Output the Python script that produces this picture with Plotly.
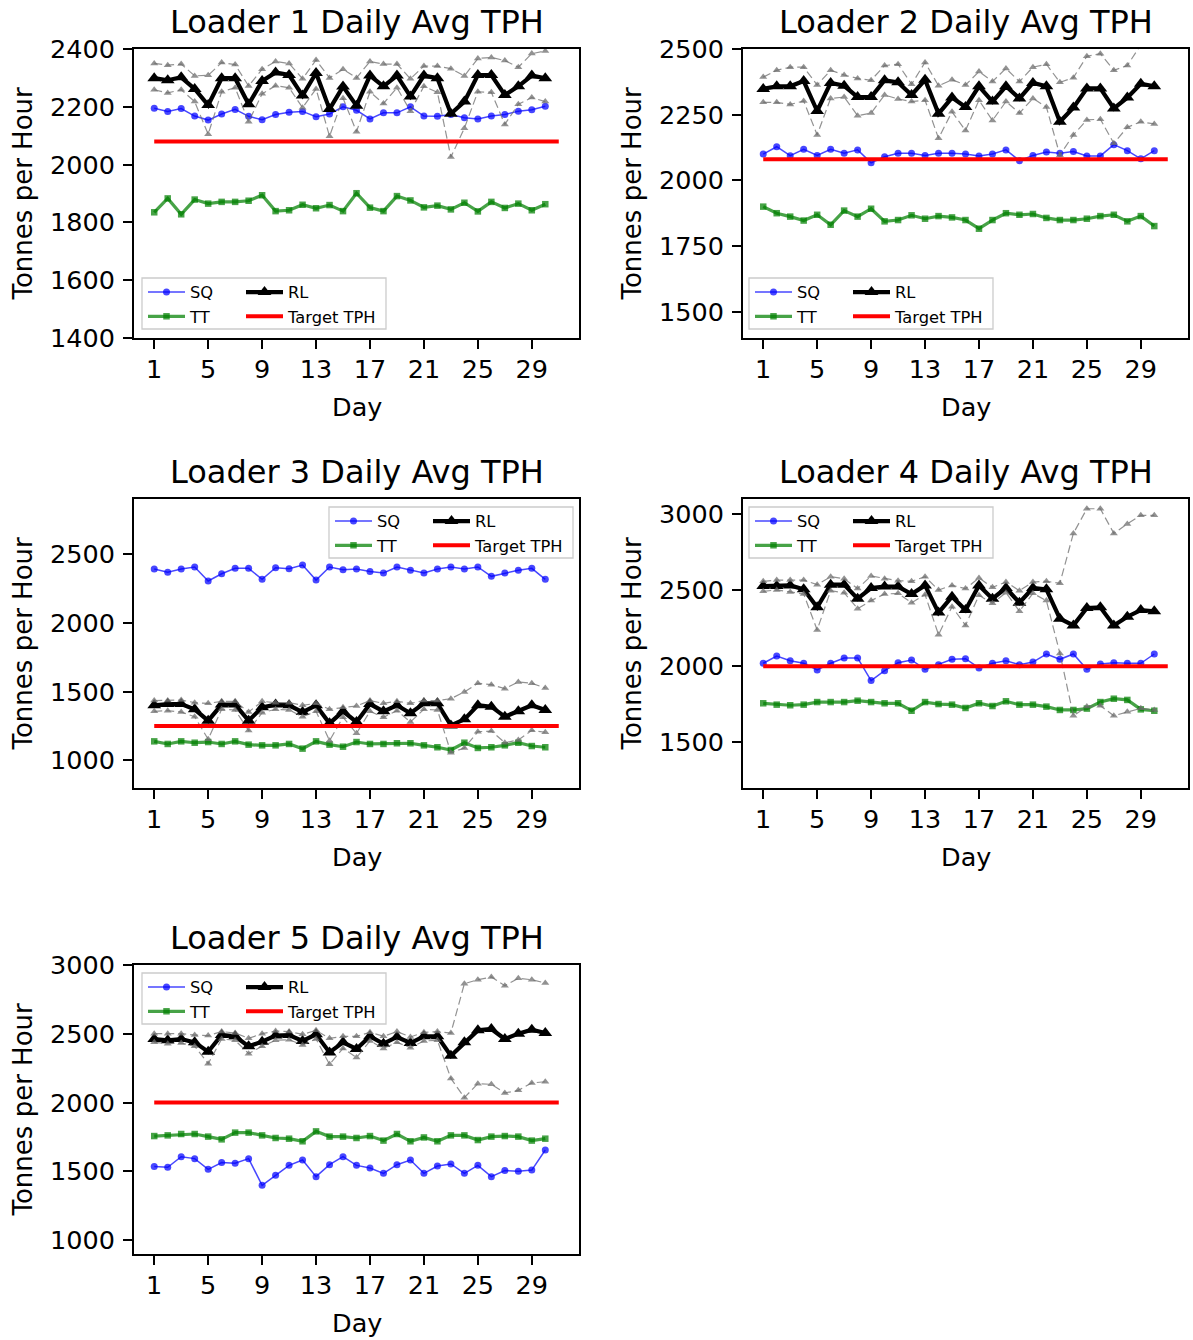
import plotly.graph_objects as go

# ---------------- data ----------------
days = list(range(1, 31))
x_ticks = [1, 5, 9, 13, 17, 21, 25, 29]

sq_1 = [2195, 2184, 2194, 2168, 2154, 2175, 2191, 2167, 2155, 2173, 2181, 2184, 2166, 2175, 2200,
        2188, 2158, 2179, 2179, 2200, 2168, 2167, 2173, 2162, 2158, 2168, 2173, 2185, 2190, 2202]
tt_1 = [1835, 1883, 1828, 1879, 1865, 1871, 1871, 1875, 1894, 1839, 1842, 1861, 1849, 1860, 1839,
        1901, 1851, 1839, 1891, 1876, 1852, 1858, 1845, 1868, 1838, 1871, 1850, 1865, 1842, 1863]
rl_1 = [2299, 2292, 2302, 2262, 2206, 2299, 2299, 2209, 2289, 2319, 2310, 2239, 2317, 2192, 2270,
        2204, 2308, 2271, 2308, 2236, 2308, 2299, 2176, 2218, 2310, 2310, 2241, 2271, 2308, 2299]
rl_hi_1 = [2350, 2344, 2348, 2307, 2309, 2353, 2346, 2272, 2330, 2357, 2350, 2297, 2362, 2300, 2330,
           2300, 2357, 2348, 2348, 2297, 2341, 2341, 2332, 2307, 2367, 2371, 2360, 2337, 2384, 2393]
rl_lo_1 = [2259, 2248, 2259, 2218, 2105, 2252, 2266, 2148, 2245, 2273, 2266, 2197, 2262, 2098, 2230,
           2114, 2252, 2211, 2266, 2185, 2271, 2250, 2026, 2126, 2252, 2250, 2139, 2209, 2232, 2218]
target_1 = 2080

sq_2 = [2100, 2128, 2094, 2118, 2095, 2118, 2103, 2116, 2067, 2090, 2103, 2103, 2095, 2103, 2103,
        2100, 2093, 2100, 2116, 2075, 2095, 2108, 2103, 2110, 2093, 2093, 2136, 2113, 2082, 2113]
tt_2 = [1900, 1875, 1862, 1847, 1869, 1831, 1885, 1862, 1892, 1844, 1849, 1867, 1854, 1864, 1859,
        1849, 1816, 1849, 1875, 1869, 1872, 1857, 1849, 1849, 1854, 1864, 1869, 1844, 1864, 1826]
rl_2 = [2348, 2358, 2358, 2378, 2264, 2371, 2360, 2317, 2317, 2381, 2373, 2325, 2383, 2254, 2315,
        2279, 2358, 2300, 2358, 2312, 2371, 2358, 2223, 2277, 2350, 2350, 2274, 2315, 2368, 2358]
rl_hi_2 = [2393, 2419, 2431, 2431, 2363, 2419, 2401, 2388, 2381, 2437, 2442, 2366, 2449, 2360, 2383,
           2363, 2414, 2376, 2426, 2376, 2431, 2442, 2373, 2391, 2472, 2482, 2419, 2437, 2516, 2525]
rl_lo_2 = [2297, 2297, 2289, 2302, 2173, 2312, 2317, 2246, 2256, 2325, 2310, 2300, 2305, 2160, 2261,
           2190, 2305, 2228, 2300, 2256, 2312, 2279, 2096, 2173, 2230, 2233, 2141, 2202, 2223, 2215]
target_2 = 2080

sq_3 = [2391, 2367, 2391, 2406, 2304, 2357, 2396, 2396, 2316, 2401, 2394, 2420, 2311, 2406, 2386,
        2391, 2374, 2362, 2406, 2382, 2362, 2391, 2406, 2391, 2406, 2338, 2362, 2382, 2396, 2316]
tt_3 = [1139, 1120, 1139, 1129, 1134, 1120, 1139, 1115, 1110, 1110, 1120, 1086, 1139, 1115, 1100,
        1134, 1120, 1120, 1125, 1125, 1110, 1096, 1076, 1129, 1091, 1096, 1110, 1129, 1105, 1096]
rl_3 = [1401, 1410, 1410, 1372, 1289, 1406, 1406, 1289, 1386, 1406, 1401, 1352, 1401, 1270, 1357,
        1280, 1410, 1357, 1401, 1343, 1415, 1415, 1255, 1299, 1401, 1391, 1318, 1357, 1401, 1367]
rl_hi_3 = [1435, 1435, 1439, 1420, 1415, 1430, 1430, 1352, 1430, 1420, 1420, 1401, 1415, 1372, 1386,
           1396, 1435, 1415, 1430, 1415, 1435, 1435, 1449, 1498, 1561, 1551, 1522, 1570, 1561, 1527]
rl_lo_3 = [1357, 1362, 1352, 1318, 1154, 1372, 1367, 1217, 1347, 1372, 1367, 1318, 1357, 1144, 1314,
           1197, 1357, 1314, 1362, 1280, 1372, 1367, 1057, 1091, 1209, 1214, 1129, 1149, 1219, 1205]
target_3 = 1250

sq_4 = [2020, 2068, 2037, 2020, 1976, 2020, 2055, 2055, 1906, 1971, 2024, 2042, 1980, 2011, 2046,
        2050, 1989, 2020, 2037, 2011, 2028, 2081, 2046, 2081, 1980, 2016, 2024, 2020, 2020, 2081]
tt_4 = [1757, 1748, 1744, 1748, 1765, 1765, 1765, 1774, 1765, 1757, 1757, 1708, 1765, 1752, 1748,
        1726, 1757, 1739, 1770, 1748, 1748, 1735, 1713, 1713, 1722, 1765, 1787, 1779, 1717, 1708]
rl_4 = [2528, 2528, 2532, 2506, 2388, 2537, 2537, 2445, 2515, 2524, 2524, 2475, 2532, 2353, 2458,
        2370, 2532, 2445, 2515, 2418, 2515, 2506, 2313, 2269, 2383, 2388, 2269, 2326, 2370, 2362]
rl_hi_4 = [2559, 2567, 2567, 2567, 2537, 2589, 2576, 2511, 2594, 2576, 2563, 2559, 2589, 2502, 2532,
           2511, 2581, 2519, 2554, 2497, 2554, 2559, 2546, 2874, 3036, 3036, 2874, 2936, 2993, 2993]
rl_lo_4 = [2493, 2502, 2489, 2475, 2239, 2497, 2484, 2379, 2432, 2475, 2480, 2418, 2471, 2208, 2392,
           2269, 2467, 2414, 2484, 2362, 2480, 2432, 2085, 1675, 1735, 1741, 1675, 1702, 1724, 1713]
target_4 = 2000

sq_5 = [1535, 1530, 1607, 1593, 1515, 1564, 1559, 1593, 1399, 1472, 1544, 1583, 1462, 1549, 1607,
        1544, 1525, 1486, 1549, 1583, 1486, 1539, 1554, 1486, 1544, 1462, 1506, 1501, 1510, 1656]
tt_5 = [1757, 1762, 1772, 1772, 1753, 1733, 1782, 1782, 1762, 1743, 1738, 1719, 1791, 1753, 1753,
        1743, 1757, 1724, 1772, 1719, 1747, 1719, 1762, 1762, 1728, 1753, 1757, 1753, 1724, 1738]
rl_5 = [2462, 2453, 2462, 2438, 2370, 2491, 2482, 2409, 2443, 2487, 2491, 2448, 2496, 2365, 2438,
        2390, 2482, 2428, 2477, 2433, 2482, 2482, 2341, 2438, 2525, 2535, 2462, 2501, 2530, 2506]
rl_hi_5 = [2501, 2501, 2501, 2491, 2487, 2516, 2506, 2467, 2501, 2520, 2516, 2496, 2525, 2467, 2482,
           2482, 2511, 2482, 2516, 2477, 2511, 2516, 2506, 2864, 2893, 2913, 2850, 2903, 2893, 2869]
rl_lo_5 = [2438, 2428, 2433, 2409, 2283, 2462, 2453, 2356, 2409, 2453, 2457, 2419, 2462, 2278, 2394,
           2327, 2448, 2394, 2438, 2399, 2448, 2453, 2176, 2036, 2138, 2133, 2070, 2089, 2143, 2152]
target_5 = 2000

y_ticks_1 = [1400, 1600, 1800, 2000, 2200, 2400]
y_ticks_2 = [1500, 1750, 2000, 2250, 2500]
y_ticks_3 = [1000, 1500, 2000, 2500]
y_ticks_4 = [1500, 2000, 2500, 3000]
y_ticks_5 = [1000, 1500, 2000, 2500, 3000]

loaders = [
    ("Loader 1", sq_1, tt_1, rl_1, rl_hi_1, rl_lo_1, target_1, y_ticks_1, (1400, 2400)),
    ("Loader 2", sq_2, tt_2, rl_2, rl_hi_2, rl_lo_2, target_2, y_ticks_2, (1400, 2500)),
    ("Loader 3", sq_3, tt_3, rl_3, rl_hi_3, rl_lo_3, target_3, y_ticks_3, (800, 2900)),
    ("Loader 4", sq_4, tt_4, rl_4, rl_hi_4, rl_lo_4, target_4, y_ticks_4, (1200, 3100)),
    ("Loader 5", sq_5, tt_5, rl_5, rl_hi_5, rl_lo_5, target_5, y_ticks_5, (900, 3000)),
]

# ---------------- layout geometry (pixels) ----------------
W, H = 1193, 1340
FONT = "DejaVu Sans"
COLS = [(134, 579), (743, 1188)]
ROWS = [(49, 338), (499, 788), (965, 1254)]
CELLS = [(0, 0), (1, 0), (0, 1), (1, 1), (0, 2)]
LEGEND_BOX = [(142, 278), (749, 278), (329, 507), (749, 507), (142, 973)]
LEG_W, LEG_H = 244, 51


def px(x):
    return x / W


def py(y):
    return 1 - y / H


fig = go.Figure()
layout = dict(
    width=W, height=H,
    margin=dict(l=0, r=0, t=0, b=0, autoexpand=False),
    paper_bgcolor="white", plot_bgcolor="white",
    font=dict(family=FONT, color="black"),
    showlegend=True,
)
annotations = []
shapes = []

for i, (name, sq, tt, rl, hi, lo, target, yt, yr) in enumerate(loaders):
    k = i + 1
    xa = "x" if k == 1 else f"x{k}"
    ya = "y" if k == 1 else f"y{k}"
    leg_a = "legend" if k == 1 else f"legend{2 * k - 1}"
    leg_b = f"legend{2 * k}"
    c, r = CELLS[i]
    x0, x1 = COLS[c]
    y0, y1 = ROWS[r]

    common = dict(xaxis=xa, yaxis=ya)
    fig.add_trace(go.Scatter(
        x=days, y=sq, name="SQ", mode="lines+markers", legend=leg_a,
        line=dict(color="rgba(0,0,255,0.72)", width=1.5),
        marker=dict(symbol="circle", size=7, color="rgba(0,0,255,0.72)"), **common))
    fig.add_trace(go.Scatter(
        x=days, y=tt, name="TT", mode="lines+markers", legend=leg_a,
        line=dict(color="rgba(0,128,0,0.72)", width=3.2),
        marker=dict(symbol="square", size=6.5, color="rgba(0,128,0,0.72)"), **common))
    fig.add_trace(go.Scatter(
        x=days, y=rl, name="RL", mode="lines+markers", legend=leg_b,
        line=dict(color="black", width=4.2),
        marker=dict(symbol="triangle-up", size=12, color="black"), **common))
    for band in (hi, lo):
        fig.add_trace(go.Scatter(
            x=days, y=band, mode="lines+markers", showlegend=False, hoverinfo="skip",
            line=dict(color="rgba(110,110,110,0.75)", width=1.2, dash="8px,4px"),
            marker=dict(symbol="triangle-up", size=7, color="rgba(110,110,110,0.75)"),
            **common))
    fig.add_trace(go.Scatter(
        x=[1, 31], y=[target, target], name="Target TPH", mode="lines", legend=leg_b,
        line=dict(color="red", width=4), **common))

    axis_common = dict(
        showline=True, linewidth=2, linecolor="black", mirror=True,
        showgrid=False, zeroline=False, ticks="outside", ticklen=9, tickwidth=2,
        tickcolor="black", tickfont=dict(family=FONT, size=25.5, color="black"),
        fixedrange=True,
    )
    layout["xaxis" if k == 1 else f"xaxis{k}"] = dict(
        axis_common, domain=[px(x0), px(x1)], anchor=ya, range=[-0.5, 32.5],
        tickvals=x_ticks, ticklabelstandoff=-2)
    layout["yaxis" if k == 1 else f"yaxis{k}"] = dict(
        axis_common, domain=[py(y1), py(y0)], anchor=xa, range=list(yr),
        tickvals=yt, ticklabelstandoff=3)

    xc = (x0 + x1) / 2
    annotations.append(dict(
        text=f"{name} Daily Avg TPH", x=px(xc), y=py(y0 - 27), xref="paper", yref="paper",
        xanchor="center", yanchor="middle", showarrow=False,
        font=dict(family=FONT, size=32, color="black")))
    annotations.append(dict(
        text="Day", x=px(xc), y=py(y1 + 69), xref="paper", yref="paper",
        xanchor="center", yanchor="middle", showarrow=False,
        font=dict(family=FONT, size=25.5, color="black")))
    annotations.append(dict(
        text="Tonnes per Hour", x=px(x0 - 112), y=py((y0 + y1) / 2), xref="paper", yref="paper",
        xanchor="center", yanchor="middle", showarrow=False, textangle=-90,
        font=dict(family=FONT, size=26, color="black")))

    # legend frame + two legend columns
    bx, by = LEGEND_BOX[i]
    shapes.append(dict(
        type="rect", xref="paper", yref="paper", layer="above",
        x0=px(bx), x1=px(bx + LEG_W), y0=py(by + LEG_H), y1=py(by),
        line=dict(color="rgba(204,204,204,1)", width=1.3),
        fillcolor="rgba(255,255,255,0.8)"))
    leg_common = dict(
        xanchor="left", yanchor="top", bgcolor="rgba(0,0,0,0)", borderwidth=0,
        font=dict(family=FONT, size=16.3, color="black"), tracegroupgap=0,
        orientation="v", itemwidth=37, itemclick=False, itemdoubleclick=False)
    layout[leg_a] = dict(leg_common, x=px(bx + 1), y=py(by - 3))
    layout[leg_b] = dict(leg_common, x=px(bx + 99), y=py(by - 3))

layout["annotations"] = annotations
layout["shapes"] = shapes
fig.update_layout(**layout)

fig.write_html("out.html")
